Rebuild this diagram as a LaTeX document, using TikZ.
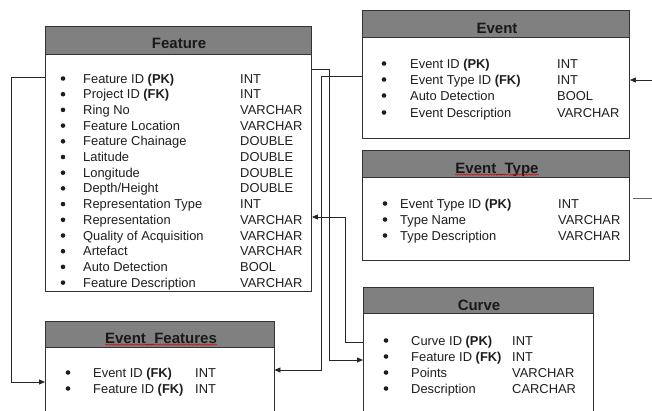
\documentclass[tikz,border=0pt]{standalone}
\usepackage{fontspec}
\setmainfont{Liberation Sans}
\usetikzlibrary{arrows.meta,decorations.pathmorphing}
\newcommand\rowfont{\fontsize{12.9}{15}\selectfont}
\newcommand\titlefont{\fontsize{15}{17}\selectfont\bfseries}
\definecolor{hdrgray}{HTML}{808080}
\definecolor{inkgray}{HTML}{1E1E1E}
\begin{document}
\begin{tikzpicture}[x=1pt,y=-1pt,
  boxline/.style={draw=black!80,line width=0.9pt},
  header/.style={boxline,fill=hdrgray,anchor=north west,inner sep=0pt},
  body/.style={boxline,fill=white,anchor=north west,inner sep=0pt},
  openbody/.style={anchor=north west,inner sep=0pt},
  title/.style={font=\titlefont,text=black!90,anchor=base,inner sep=0pt},
  rowtxt/.style={font=\rowfont,text=inkgray,anchor=base west,inner sep=0pt},
  bul/.style={circle,fill=inkgray,inner sep=0pt,minimum size=4.6pt},
  conn/.style={draw=black!85,line width=0.8pt},
  arr/.style={conn,-{Triangle[length=6pt,width=5pt]}},
  squiggle/.style={draw=red!85!black,line width=0.5pt,decorate,
    decoration={snake,amplitude=0.7pt,segment length=2.6pt}}
]
\useasboundingbox (0,0) rectangle (652,410);
\fill[white] (0,0) rectangle (652,410);

% ---------- Feature table ----------
\node[body,minimum width=266pt,minimum height=237pt] (featb) at (45,54) {};
\node[header,minimum width=266pt,minimum height=28pt] (feath) at (45,26) {};
\node[title] (featT) at (179,48) {Feature};
\foreach \lab/\typ [count=\i] in {
  {Feature ID \textbf{(PK)}}/INT, {Project ID \textbf{(FK)}}/INT,
  {Ring No}/VARCHAR, {Feature Location}/VARCHAR, {Feature Chainage}/DOUBLE,
  Latitude/DOUBLE, Longitude/DOUBLE, {Depth/Height}/DOUBLE,
  {Representation Type}/INT, Representation/VARCHAR,
  {Quality of Acquisition}/VARCHAR, Artefact/VARCHAR,
  {Auto Detection}/BOOL, {Feature Description}/VARCHAR}
{
  \pgfmathsetmacro\yb{83+15.7*(\i-1)}
  \node[bul] (fb\i) at (63,\yb-4.5) {};
  \node[rowtxt] (fn\i) at (83,\yb) {\lab};
  \node[rowtxt] (ft\i) at (240,\yb) {\typ};
}

% ---------- Event table ----------
\node[body,minimum width=267pt,minimum height=101pt] (eventb) at (362,37) {};
\node[header,minimum width=267pt,minimum height=27pt] (eventh) at (362,10) {};
\node[title] (eventT) at (497,33) {Event};
\foreach \yb/\lab/\typ [count=\i] in {
  68/{Event ID \textbf{(PK)}}/INT, 84/{Event Type ID \textbf{(FK)}}/INT,
  100/{Auto Detection}/BOOL, 117/{Event Description}/VARCHAR}
{
  \node[bul] (eb\i) at (384,\yb-4.5) {};
  \node[rowtxt] (en\i) at (410,\yb) {\lab};
  \node[rowtxt] (et\i) at (557,\yb) {\typ};
}

% ---------- Event_Type table ----------
\node[body,minimum width=267pt,minimum height=83pt] (etb) at (362,177) {};
\node[header,minimum width=267pt,minimum height=27pt] (eth) at (362,150) {};
\node[title] (etT) at (497,173) {Event\_Type};
\draw[squiggle] ([yshift=-1.6pt]etT.base west) -- ([yshift=-1.6pt]etT.base east);
\foreach \yb/\lab/\typ [count=\i] in {
  208/{Event Type ID \textbf{(PK)}}/INT, 224/{Type Name}/VARCHAR,
  240/{Type Description}/VARCHAR}
{
  \node[bul] (tb\i) at (385,\yb-4.5) {};
  \node[rowtxt] (tn\i) at (400,\yb) {\lab};
  \node[rowtxt] (tt\i) at (558,\yb) {\typ};
}

% ---------- Curve table (runs past the lower edge) ----------
\node[openbody,minimum width=230pt,minimum height=99pt] (curveb) at (363,313) {};
\draw[boxline] (curveb.north west) -- (curveb.south west);
\draw[boxline] (curveb.north east) -- (curveb.south east);
\node[header,minimum width=230pt,minimum height=26pt] (curveh) at (363,287) {};
\node[title] (curveT) at (479,310) {Curve};
\foreach \yb/\lab/\typ [count=\i] in {
  345/{Curve ID \textbf{(PK)}}/INT, 361/{Feature ID \textbf{(FK)}}/INT,
  377/Points/VARCHAR, 393/Description/CARCHAR}
{
  \node[bul] (cb\i) at (386,\yb-4.5) {};
  \node[rowtxt] (cn\i) at (411,\yb) {\lab};
  \node[rowtxt] (ct\i) at (512,\yb) {\typ};
}

% ---------- Event_Features table (runs past the lower edge) ----------
\node[openbody,minimum width=229pt,minimum height=65pt] (efb) at (45,347) {};
\draw[boxline] (efb.north west) -- (efb.south west);
\draw[boxline] (efb.north east) -- (efb.south east);
\node[header,minimum width=229pt,minimum height=26pt] (efh) at (45,321) {};
\node[title] (efT) at (161,343) {Event\_Features};
\draw[squiggle] ([yshift=-1.6pt]efT.base west) -- ([yshift=-1.6pt]efT.base east);
\foreach \yb/\lab/\typ [count=\i] in {
  377/{Event ID \textbf{(FK)}}/INT, 393/{Feature ID \textbf{(FK)}}/INT}
{
  \node[bul] (xb\i) at (68,\yb-4.5) {};
  \node[rowtxt] (xn\i) at (93,\yb) {\lab};
  \node[rowtxt] (xt\i) at (195,\yb) {\typ};
}

% ---------- relationships ----------
\draw[arr] (featb.west |- 0,77) -| (11,382) -- (efb.west |- 0,382);
\draw[arr] (featb.east |- 0,69) -| (329,360) -- (curveb.west |- 0,360);
\draw[arr] (eventb.west |- 0,76) -| (321,370) -- (efb.east |- 0,370);
\draw[arr] (curveb.west |- 0,342) -| (345,217) -- (featb.east |- 0,217);
\coordinate (inE) at (652,80);
\draw[arr] (inE) -- (eventb.east |- inE);
\coordinate (outF) at (652,198);
\draw[conn,draw=black!60] (etb.east |- outF) ++(3,0) -- (outF);
\end{tikzpicture}
\end{document}
